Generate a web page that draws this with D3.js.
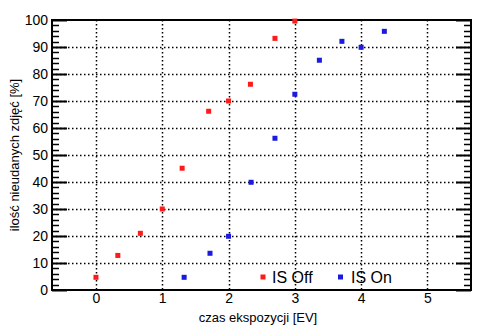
<!DOCTYPE html>
<html><head><meta charset="utf-8">
<script src="https://cdn.jsdelivr.net/npm/d3@7"></script>
<style>body{margin:0;background:#fff}svg{display:block}text{font-family:"Liberation Sans",Arial,sans-serif}</style>
</head><body><svg id="c" width="494" height="331"></svg>
<script>
const offX = [0, 0.33, 0.67, 1, 1.3, 1.7, 2, 2.33, 2.7, 3];
const offY = [4.7, 12.8, 21, 30, 45.1, 66.2, 70, 76.2, 93.2, 99.6];
const onX = [1.33, 1.72, 2, 2.34, 2.7, 3, 3.37, 3.71, 4, 4.35];
const onY = [4.7, 13.6, 19.9, 39.9, 56.2, 72.5, 85.1, 92.1, 89.9, 95.8];
const xTicks = [0, 1, 2, 3, 4, 5];
const yTicks = [0, 10, 20, 30, 40, 50, 60, 70, 80, 90, 100];
const seriesNames = ["IS Off", "IS On"];
const colors = ["#ff1a1a", "#1a1ae0"];

const L = 52, R = 471, T = 20, B = 290;
const svg = d3.select("#c");
const x = d3.scaleLinear().domain([-0.663, 5.657]).range([L, R]);
const y = d3.scaleLinear().domain([0, 100]).range([B, T]);

// grid
const g = svg.append("g");
g.selectAll(".gx").data(xTicks).enter().append("line")
  .attr("x1", d => Math.round(x(d)) + 0.5).attr("x2", d => Math.round(x(d)) + 0.5)
  .attr("y1", T).attr("y2", B)
  .attr("stroke", "#000").attr("stroke-width", 1.5).attr("stroke-dasharray", "1.5,2.5");
g.selectAll(".gy").data(yTicks.filter(d => d > 0 && d < 100)).enter().append("line")
  .attr("x1", L).attr("x2", R)
  .attr("y1", d => Math.round(y(d)) + 0.5).attr("y2", d => Math.round(y(d)) + 0.5)
  .attr("stroke", "#000").attr("stroke-width", 1.5).attr("stroke-dasharray", "1.5,2.5");

// minor/major ticks on left and right (inside)
const minor = d3.range(0, 101, 2);
[L, R].forEach((ax, i) => {
  const dir = i === 0 ? 1 : -1;
  svg.append("g").selectAll("line").data(minor).enter().append("line")
    .attr("x1", ax).attr("x2", d => ax + dir * (d % 10 === 0 ? 15 : 7))
    .attr("y1", d => Math.round(y(d)) + 0.5).attr("y2", d => Math.round(y(d)) + 0.5)
    .attr("stroke", "#000").attr("stroke-width", d => d % 10 === 0 ? 2 : 1.5);
});

// frame
svg.append("rect").attr("x", L).attr("y", T).attr("width", R - L).attr("height", B - T)
  .attr("fill", "none").attr("stroke", "#000").attr("stroke-width", 2);

// axes labels
const yAx = d3.axisLeft(y).tickValues(yTicks).tickSize(0).tickPadding(4);
const ya = svg.append("g").attr("transform", `translate(${L},0)`).call(yAx);
ya.select(".domain").remove();
ya.selectAll("text").attr("font-size", 14).attr("fill", "#000").attr("font-family", '"Liberation Sans",Arial,sans-serif');

const xAx = d3.axisBottom(x).tickValues(xTicks).tickSize(0).tickPadding(3).tickFormat(d3.format("d"));
const xa = svg.append("g").attr("transform", `translate(0,${B})`).call(xAx);
xa.select(".domain").remove();
xa.selectAll("text").attr("font-size", 14).attr("fill", "#000").attr("font-family", '"Liberation Sans",Arial,sans-serif');

svg.append("text").attr("x", 258).attr("y", 322).attr("text-anchor", "middle")
  .attr("font-size", 13).text("czas ekspozycji [EV]");
svg.append("text").attr("transform", "translate(19,155) rotate(-90)").attr("text-anchor", "middle")
  .attr("font-size", 13).text("ilość nieudanych zdjęć [%]");

// points
const sets = [d3.zip(offX, offY), d3.zip(onX, onY)];
sets.forEach((pts, i) => {
  svg.append("g").selectAll("rect").data(pts).enter().append("rect")
    .attr("x", d => x(d[0]) - 2.5).attr("y", d => y(d[1]) - 2.5)
    .attr("width", 5).attr("height", 5).attr("fill", colors[i]);
});

// legend
const lg = [{mx: 262.5, tx: 272}, {mx: 340, tx: 351}];
seriesNames.forEach((n, i) => {
  svg.append("rect").attr("x", lg[i].mx - 2).attr("y", 274.5).attr("width", 5).attr("height", 5).attr("fill", colors[i]);
  svg.append("text").attr("x", lg[i].tx).attr("y", 283).attr("font-size", 16).text(n);
});
</script></body></html>
